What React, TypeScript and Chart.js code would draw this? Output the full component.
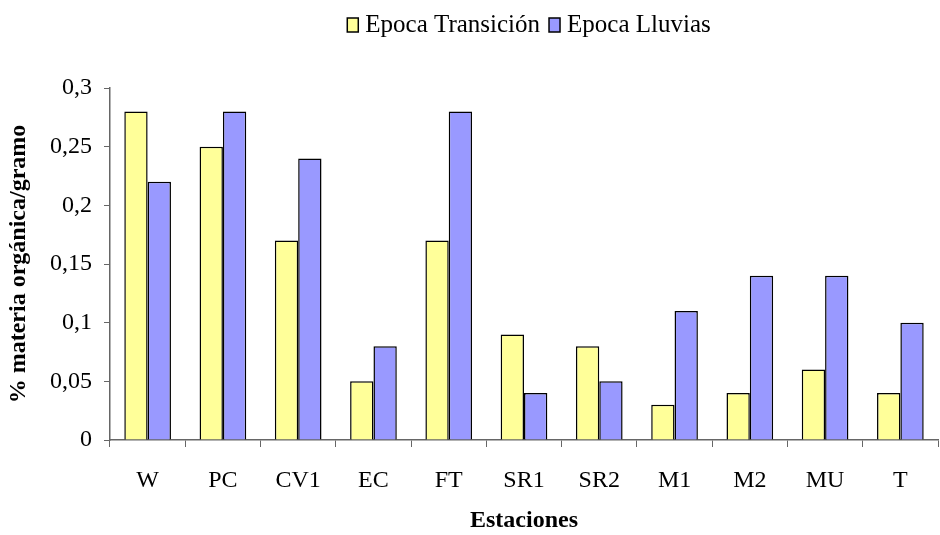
import React, { useEffect, useRef } from "react";
import { Chart, registerables } from "chart.js";

Chart.register(...registerables);

const categories = ["W", "PC", "CV1", "EC", "FT", "SR1", "SR2", "M1", "M2", "MU", "T"];
const transicion = [0.28, 0.25, 0.17, 0.05, 0.17, 0.09, 0.08, 0.03, 0.04, 0.06, 0.04];
const lluvias = [0.22, 0.28, 0.24, 0.08, 0.28, 0.04, 0.05, 0.11, 0.14, 0.14, 0.1];
const seriesNames = ["Epoca Transición", "Epoca Lluvias"];
const seriesColors = ["#FFFF99", "#9999FF"];

const FONT = "'Liberation Serif', 'Times New Roman', serif";

const legendPlugin = {
  id: "customLegend",
  afterDraw(chart: any) {
    const ctx = chart.ctx;
    ctx.save();
    ctx.font = `25px ${FONT}`;
    ctx.textBaseline = "middle";
    const items = chart.data.datasets.map((d: any) => ({ label: d.label, color: d.backgroundColor }));
    const box = 11;
    const gap = 7;
    const itemGap = 9;
    let total = 0;
    items.forEach((it: any, i: number) => {
      total += box + gap + ctx.measureText(it.label).width + (i < items.length - 1 ? itemGap : 0);
    });
    let x = 529 - total / 2;
    const y = 25;
    items.forEach((it: any) => {
      ctx.fillStyle = it.color;
      ctx.fillRect(x, y - 7, box, 14);
      ctx.strokeStyle = "#000";
      ctx.lineWidth = 1.5;
      ctx.strokeRect(x, y - 7, box, 14);
      x += box + gap;
      ctx.fillStyle = "#000";
      ctx.fillText(it.label, x, y);
      x += ctx.measureText(it.label).width + itemGap;
    });
    ctx.restore();
  },
};

export default function App() {
  const ref = useRef<HTMLCanvasElement | null>(null);
  useEffect(() => {
    document.body.style.margin = "0";
    if (!ref.current) return;
    const chart = new Chart(ref.current, {
      type: "bar",
      data: {
        labels: categories,
        datasets: [
          {
            label: seriesNames[0],
            data: transicion,
            backgroundColor: seriesColors[0],
            borderColor: "#000",
            borderWidth: 1.5,
            categoryPercentage: 0.62,
            barPercentage: 1,
          },
          {
            label: seriesNames[1],
            data: lluvias,
            backgroundColor: seriesColors[1],
            borderColor: "#000",
            borderWidth: 1.5,
            categoryPercentage: 0.62,
            barPercentage: 1,
          },
        ],
      },
      plugins: [legendPlugin],
      options: {
        responsive: false,
        animation: false,
        layout: { padding: { top: 88, right: 2, left: 0, bottom: 0 } },
        plugins: { legend: { display: false }, tooltip: { enabled: false } },
        scales: {
          x: {
            offset: true,
            grid: { display: true, drawOnChartArea: false, drawTicks: true, tickLength: 7, color: "#666", offset: true },
            border: { display: true, color: "#666", width: 1.5 },
            ticks: { font: { family: FONT, size: 24 }, color: "#000", padding: 19 },
            title: { display: true, text: "Estaciones", font: { family: FONT, size: 24, weight: "bold" }, color: "#000", padding: { top: 14, bottom: 0 } },
            afterFit: (s: any) => { s.height = 95; },
          },
          y: {
            min: 0,
            max: 0.3,
            ticks: {
              stepSize: 0.05,
              font: { family: FONT, size: 24 },
              color: "#000",
              padding: 12,
              callback: (v: any) => String(Math.round(Number(v) * 100) / 100).replace(".", ","),
            },
            grid: { display: true, drawOnChartArea: false, drawTicks: true, tickLength: 6, color: "#666" },
            border: { display: true, color: "#666", width: 1.5 },
            title: { display: true, text: "% materia orgánica/gramo", font: { family: FONT, size: 24, weight: "bold" }, color: "#000", padding: { top: 4, bottom: 2 } },
            afterFit: (s: any) => { s.width = 110; },
          },
        },
      },
    });
    return () => chart.destroy();
  }, []);
  return <canvas ref={ref} width={940} height={535} style={{ display: "block" }} />;
}
